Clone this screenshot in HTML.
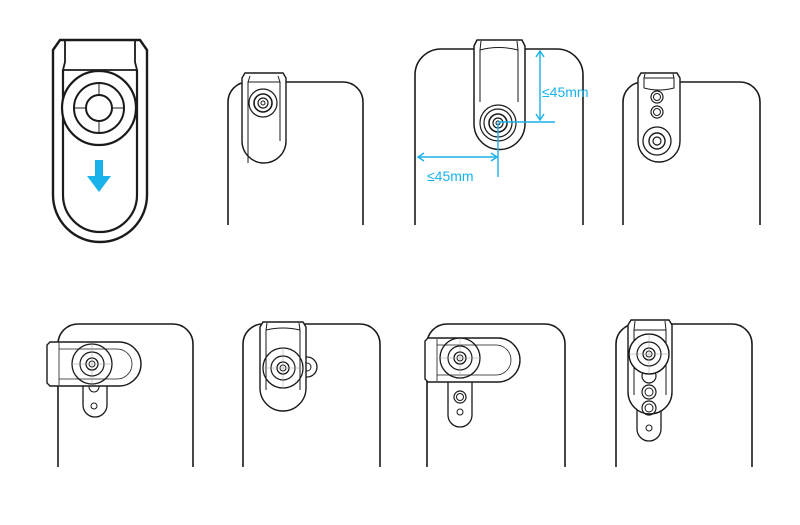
<!DOCTYPE html>
<html><head><meta charset="utf-8"><style>
html,body{margin:0;padding:0;background:#fff;}
svg{display:block}
</style></head><body>
<svg width="800" height="525" viewBox="0 0 800 525" xmlns="http://www.w3.org/2000/svg" fill="none" stroke="#1a1a1a" stroke-width="1.6">
<defs>
<g id="lensS">
<circle r="14" stroke-width="1.2"/><circle r="9"/><circle r="5" stroke-width="1.2"/><circle r="2" stroke-width="1"/>
</g>
<g id="lensM">
<circle r="20" stroke-width="1.3"/><circle r="12" stroke-width="1.2"/><circle r="6" stroke-width="1.3"/><circle r="3" stroke-width="1"/>
<path d="M-20 0H20M0 -20V20" stroke-width="0.5" stroke="#999"/>
</g>
</defs>

<!-- Panel 1: big clip -->
<path d="M53 50 L60 40 H140 L147 50 V195 A47 47 0 0 1 53 195 Z" stroke-width="2.4"/>
<path d="M63 70 V195 A37 37 0 0 0 137 195 V70" stroke-width="2.2"/>
<path d="M65 40 V62 L63 70 H137 L135 62 V40" stroke-width="1.8"/>
<circle cx="99" cy="108" r="37" stroke-width="2.2" fill="#fff"/>
<circle cx="99" cy="108" r="25" stroke-width="2"/>
<circle cx="99" cy="108" r="13" stroke-width="2"/>
<path d="M74 108H86M112 108H124M99 83V95M99 121V133" stroke-width="1"/>
<path d="M95 160 H103 V176 H111 L99 192 L87 176 H95 Z" fill="#19b2ea" stroke="none"/>

<!-- Panel 2 -->
<path d="M228 225 V102 A20 20 0 0 1 248 82 H343 A20 20 0 0 1 363 102 V225"/>
<path d="M242 78 L245 73 H283 L286 78 V141 A22 22 0 0 1 242 141 Z" fill="#fff" stroke-width="1.4"/>
<path d="M248 163 V82 H280 V141 M248 82 L250 76 M280 82 L278 76" stroke-width="1"/>
<use href="#lensS" x="263" y="103"/>

<!-- Panel 3 -->
<path d="M415 225 V75 A26 26 0 0 1 441 49 H557 A26 26 0 0 1 583 75 V225"/>
<path d="M474 46 L477 40 H522 L525 46 V124 A25.5 25.5 0 0 1 474 124 Z" fill="#fff" stroke-width="1.5"/>
<path d="M480 102 V50 Q498 45 518 50 V102 M480 50 L481 41 M518 50 L517 41" stroke-width="1"/>
<circle cx="498" cy="123" r="18" stroke-width="1.2"/>
<use href="#lensS" x="498" y="123"/>
<g stroke="#19b2ea" stroke-width="1.4">
<path d="M540 52 V119 M498 122 H555 M419 157 H497 M498 123 V177"/>
<path d="M536 57 L540 51 L544 57 M536 114 L540 120 L544 114 M424 153 L418 157 L424 161 M491 153 L497 157 L491 161" fill="none"/>
</g>
<text x="542" y="97" fill="#19b2ea" stroke="none" font-family="Liberation Sans, sans-serif" font-size="14">≤45mm</text>
<text x="427" y="181" fill="#19b2ea" stroke="none" font-family="Liberation Sans, sans-serif" font-size="14">≤45mm</text>

<!-- Panel 4 -->
<path d="M623 225 V102 A20 20 0 0 1 643 82 H740 A20 20 0 0 1 760 102 V225"/>
<path d="M638 78 L641 73 H677 L680 78 V141 A21 21 0 0 1 638 141 Z" fill="#fff" stroke-width="1.4"/>
<path d="M644 88 V78 H674 V88 Q659 92 644 88 M644 78 L645 74 M674 78 L673 74" stroke-width="1"/>
<circle cx="657" cy="97" r="6" stroke-width="1.2"/><circle cx="657" cy="97" r="3.5" stroke-width="1"/>
<circle cx="657" cy="112" r="6" stroke-width="1.2"/><circle cx="657" cy="112" r="3.5" stroke-width="1"/>
<circle cx="657" cy="141" r="14" stroke-width="1.3"/><circle cx="657" cy="141" r="8" stroke-width="1.4"/><circle cx="657" cy="141" r="4" stroke-width="1.2"/>

<!-- Panel 5 -->
<path d="M58 467 V344 A20 20 0 0 1 78 324 H173 A20 20 0 0 1 193 344 V467"/>
<path d="M83 383 V405 A12 12 0 0 0 107 405 V383" fill="#fff" stroke-width="1.3"/>
<circle cx="94" cy="406" r="3" stroke-width="1"/>
<circle cx="94" cy="387" r="5" stroke-width="1"/>
<path d="M50 342 H119 A22 22 0 0 1 119 386 H50 L47 383 V345 Z" fill="#fff" stroke-width="1.4"/>
<path d="M59 343 V385 M59 349 H117 A15 15 0 0 1 117 379 H59" stroke-width="0.8"/>
<use href="#lensM" x="92" y="364"/>

<!-- Panel 6 -->
<path d="M243 467 V344 A20 20 0 0 1 263 324 H360 A20 20 0 0 1 380 344 V467"/>
<circle cx="307" cy="367" r="10" stroke-width="1.3"/><circle cx="307" cy="367" r="4" stroke-width="1"/>
<path d="M260 327 L263 322 H303 L306 327 V388 A23 23 0 0 1 260 388 Z" fill="#fff" stroke-width="1.4"/>
<path d="M266 390 V330 Q283 326 300 330 V390 M266 330 L267 323 M300 330 L299 323" stroke-width="1"/>
<use href="#lensM" x="283" y="368"/>

<!-- Panel 7 -->
<path d="M427 467 V344 A20 20 0 0 1 447 324 H545 A20 20 0 0 1 565 344 V467"/>
<path d="M448 380 V415 A12 12 0 0 0 472 415 V380" fill="#fff" stroke-width="1.3"/>
<circle cx="460" cy="397" r="6" stroke-width="1.2"/><circle cx="460" cy="397" r="3.5" stroke-width="1"/>
<circle cx="460" cy="412" r="3" stroke-width="1"/>
<path d="M428 338 H498 A22 22 0 0 1 498 382 H428 L425 379 V341 Z" fill="#fff" stroke-width="1.4"/>
<path d="M437 339 V381 M437 345 H496 A15 15 0 0 1 496 375 H437" stroke-width="0.8"/>
<use href="#lensM" x="460" y="358"/>

<!-- Panel 8 -->
<path d="M616 467 V344 A20 20 0 0 1 636 324 H732 A20 20 0 0 1 752 344 V467"/>
<path d="M637 405 V429 A12 12 0 0 0 661 429 V405" fill="#fff" stroke-width="1.3"/>
<circle cx="649" cy="428" r="3" stroke-width="1"/>
<path d="M628 325 L631 320 H669 L672 325 V392 A22 22 0 0 1 628 392 Z" fill="#fff" stroke-width="1.4"/>
<path d="M634 395 V330 H666 V395 M634 330 L635 321 M666 330 L665 321" stroke-width="1"/>
<circle cx="649" cy="376" r="7" stroke-width="1.2"/>
<circle cx="649" cy="392" r="7" stroke-width="1.2"/><circle cx="649" cy="392" r="4" stroke-width="1"/>
<circle cx="649" cy="408" r="7" stroke-width="1.2"/><circle cx="649" cy="408" r="4" stroke-width="1"/>
<circle cx="649" cy="354" r="20" fill="#fff" stroke-width="1.3"/>
<use href="#lensM" x="649" y="354"/>
</svg>
</body></html>
